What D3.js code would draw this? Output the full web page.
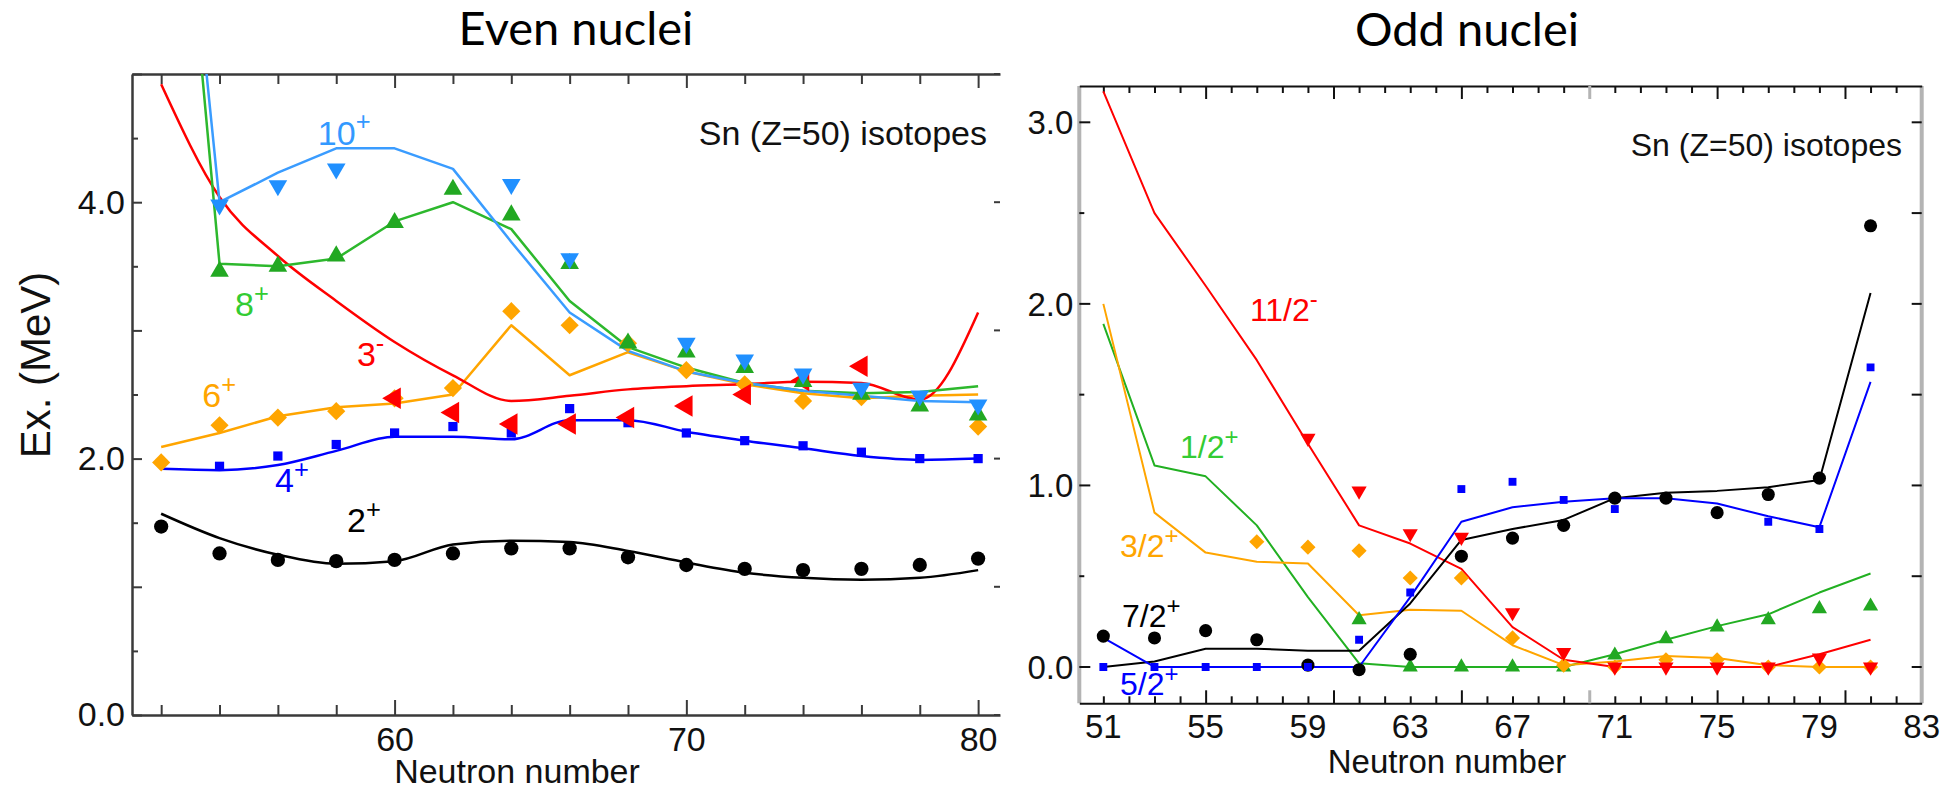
<!DOCTYPE html>
<html><head><meta charset="utf-8">
<script src="https://cdn.jsdelivr.net/npm/d3@7"></script>
<style>html,body{margin:0;padding:0;background:#fff;} svg{display:block;}</style>
</head><body>
<svg id="chart" width="1959" height="791"></svg>
<script>
// ---------- Even-N Sn isotopes: excitation energies (MeV) ----------
const evenN = d3.range(52, 81, 2);
const even2Exp  = [1.47, 1.26, 1.21, 1.20, 1.21, 1.26, 1.30, 1.30, 1.23, 1.17, 1.14, 1.13, 1.14, 1.17, 1.22];
const even2Th   = [1.57, 1.38, 1.25, 1.18, 1.20, 1.33, 1.36, 1.35, 1.28, 1.19, 1.11, 1.07, 1.055, 1.07, 1.13];
const even4Exp  = [null, 1.94, 2.02, 2.11, 2.20, 2.25, 2.20, 2.39, 2.28, 2.20, 2.14, 2.10, 2.05, 2.00, 2.00];
const even4Th   = [1.92, 1.91, 1.95, 2.06, 2.17, 2.17, 2.15, 2.30, 2.30, 2.21, 2.14, 2.08, 2.02, 1.99, 2.00];
const even6Exp  = [1.97, 2.26, 2.32, 2.37, 2.47, 2.55, 3.15, 3.04, 2.90, 2.69, 2.58, 2.45, 2.48, null, 2.25];
const even6Th   = [2.09, 2.20, 2.33, 2.40, 2.43, 2.50, 3.04, 2.65, 2.83, 2.68, 2.58, 2.51, 2.47, 2.49, 2.50];
const even3Exp  = [null, null, null, null, 2.47, 2.36, 2.27, 2.27, 2.32, 2.41, 2.50, 2.61, 2.72, null, null];
const even3Th   = [4.92, 4.04, 3.58, 3.23, 2.91, 2.65, 2.45, 2.49, 2.54, 2.565, 2.58, 2.60, 2.59, 2.46, 3.14];
const even8Exp  = [null, 3.46, 3.50, 3.58, 3.84, 4.10, 3.90, 3.52, 2.90, 2.83, 2.71, 2.60, 2.50, 2.41, 2.34];
const even8Th   = [8.5, 3.52, 3.50, 3.56, 3.85, 4.00, 3.79, 3.23, 2.87, 2.71, 2.59, 2.53, 2.51, 2.52, 2.565];
const even10Exp = [null, 3.98, 4.13, 4.26, null, null, 4.14, 3.56, null, 2.90, 2.77, 2.66, 2.55, 2.49, 2.42];
const even10Th  = [8.5, 4.00, 4.23, 4.42, 4.42, 4.26, 3.69, 3.14, 2.84, 2.68, 2.59, 2.53, 2.49, 2.45, 2.44];

// ---------- Odd-N Sn isotopes: excitation energies (MeV) ----------
const oddN = d3.range(51, 82, 2);
const odd72Exp  = [0.17, 0.16, 0.20, 0.15, 0.01, -0.015, 0.07, 0.61, 0.71, 0.78, 0.93, 0.93, 0.85, 0.95, 1.04, 2.43];
const odd72Th   = [0.00, 0.03, 0.10, 0.10, 0.09, 0.09, 0.35, 0.70, 0.76, 0.81, 0.93, 0.96, 0.97, 0.99, 1.03, 2.06];
const odd52Exp  = [0, 0, 0, 0, 0, 0.15, 0.41, 0.98, 1.02, 0.92, 0.87, null, null, 0.80, 0.76, 1.65];
const odd52Th   = [0.16, 0, 0, 0, 0, 0, 0.385, 0.80, 0.88, 0.91, 0.93, 0.93, 0.90, 0.83, 0.77, 1.57];
const odd32Exp  = [null, null, null, 0.69, 0.66, 0.64, 0.49, 0.49, 0.16, 0.01, 0, 0.04, 0.04, 0, 0, 0];
const odd32Th   = [2.00, 0.85, 0.63, 0.58, 0.57, 0.285, 0.315, 0.31, 0.12, 0.01, 0.03, 0.06, 0.05, 0.01, 0, 0];
const odd12Exp  = [null, null, null, null, null, 0.26, 0, 0, 0, 0, 0.065, 0.155, 0.22, 0.26, 0.32, 0.335];
const odd12Th   = [1.89, 1.11, 1.05, 0.78, 0.385, 0.02, 0, 0, 0, 0, 0.07, 0.15, 0.225, 0.29, 0.41, 0.515];
const odd112Exp = [null, null, null, null, 1.26, 0.97, 0.735, 0.715, 0.30, 0.08, 0, 0, 0, 0, 0.05, 0];
const odd112Th  = [3.17, 2.50, 2.10, 1.69, 1.23, 0.78, 0.68, 0.54, 0.22, 0.04, 0, 0, 0, 0, 0.07, 0.15];

// ---------- tick labels ----------
const evenXTickLabels = [60, 70, 80];
const evenYTickLabels = [0, 2, 4];
const oddXTickLabels  = [51, 55, 59, 63, 67, 71, 75, 79, 83];
const oddYTickLabels  = [0, 1, 2, 3];

const svg = d3.select("#chart");
const FONT = "'Liberation Sans', Arial, Helvetica, sans-serif";
const zip = (xs, ys) => xs.map((x, i) => ({x, v: ys[i]}));

function marker(g, pts, sx, sy, opt) {
  const path = d3.symbol().type(opt.type).size(opt.size)();
  g.selectAll(null).data(pts.filter(d => d.v != null)).join("path")
    .attr("d", path)
    .attr("fill", opt.color)
    .attr("transform", d => `translate(${sx(d.x)},${sy(d.v)}) rotate(${opt.rot || 0})`);
}
function curve(g, pts, sx, sy, color, width, smooth) {
  const line = d3.line().defined(d => d.v != null)
    .x(d => sx(d.x)).y(d => sy(d.v))
    .curve(smooth ? d3.curveMonotoneX : d3.curveLinear);
  g.append("path").attr("d", line(pts)).attr("fill", "none")
    .attr("stroke", color).attr("stroke-width", width).attr("stroke-linejoin", "round");
}
function label(g, x, y, main, sup, color, size) {
  const t = g.append("text").attr("x", x).attr("y", y)
    .attr("font-family", FONT).attr("font-size", size).attr("fill", color);
  t.append("tspan").text(main);
  t.append("tspan").attr("dy", "-0.55em").attr("font-size", "0.75em").text(sup);
}

// ================= Even nuclei panel =================
const xL = d3.scaleLinear().domain([51, 80.75]).range([132, 1000]);
const yL = d3.scaleLinear().domain([0, 5]).range([715, 74]);
const gL = svg.append("g");

svg.append("defs").append("clipPath").attr("id", "clipL")
  .append("rect").attr("x", xL(51)).attr("y", yL(5)).attr("width", xL(80.75) - xL(51)).attr("height", yL(0) - yL(5));
svg.select("defs").append("clipPath").attr("id", "clipR")
  .append("rect").attr("x", 1079.3).attr("y", 86).attr("width", 1921.7 - 1079.3).attr("height", 703.3 - 86);

const axisColor = "#3a3a3a";
// bottom
const axB = gL.append("g").attr("transform", `translate(0,${yL(0)})`)
  .call(d3.axisBottom(xL).tickValues(d3.range(52, 81, 2)).tickSize(-10).tickSizeOuter(0).tickPadding(12)
    .tickFormat(d => evenXTickLabels.includes(d) ? d : ""));
axB.selectAll(".tick line").filter(d => d % 10 === 0).attr("y2", -15);
// top
const axT = gL.append("g").attr("transform", `translate(0,${yL(5)})`)
  .call(d3.axisTop(xL).tickValues(d3.range(52, 81, 2)).tickSize(-10).tickSizeOuter(0).tickFormat(""));
axT.selectAll(".tick line").filter(d => d % 10 === 0).attr("y2", 14);
// left
const axLft = gL.append("g").attr("transform", `translate(${xL(51)},0)`)
  .call(d3.axisLeft(yL).tickValues(d3.range(0, 5.01, 0.5)).tickSize(-10).tickSizeOuter(0).tickPadding(7)
    .tickFormat(d => evenYTickLabels.includes(d) ? d3.format(".1f")(d) : ""));
axLft.selectAll(".tick line").filter(d => d % 1 !== 0).attr("x2", 6);
// right-hand inner ticks
gL.append("g").selectAll("line").data(d3.range(0, 5.01, 1)).join("line")
  .attr("x1", 994).attr("x2", 1000).attr("y1", d => yL(d)).attr("y2", d => yL(d))
  .attr("stroke", axisColor).attr("stroke-width", 2);
[axB, axT, axLft].forEach(a => {
  a.select(".domain").attr("stroke", axisColor).attr("stroke-width", 2.5);
  a.selectAll(".tick line").attr("stroke", axisColor).attr("stroke-width", 2);
  a.selectAll("text").attr("font-family", FONT).attr("font-size", 34).attr("fill", "#111");
});

gL.append("text").attr("x", 517).attr("y", 783).attr("text-anchor", "middle")
  .attr("font-family", FONT).attr("font-size", 34).attr("fill", "#111").text("Neutron number");
gL.append("text").attr("transform", "translate(50,365) rotate(-90)").attr("text-anchor", "middle")
  .attr("font-family", FONT).attr("font-size", 42).attr("fill", "#111").text("Ex. (MeV)");
gL.append("text").attr("x", 987).attr("y", 145).attr("text-anchor", "end")
  .attr("font-family", FONT).attr("font-size", 34).attr("fill", "#111").text("Sn (Z=50) isotopes");
svg.append("text").attr("x", 576).attr("y", 45).attr("text-anchor", "middle")
  .attr("font-family", "Lato, 'Open Sans', sans-serif").attr("font-size", 47).attr("fill", "#000").text("Even nuclei");

const plotL = gL.append("g").attr("clip-path", "url(#clipL)");
const C = {black: "#000", blue: "#0000ff", orange: "#ffa500", red: "#ff0000", green: "#22a822", sky: "#2090ff"};
curve(plotL, zip(evenN, even2Th), xL, yL, C.black, 2.5, true);
curve(plotL, zip(evenN, even4Th), xL, yL, C.blue, 2.5, true);
curve(plotL, zip(evenN, even6Th), xL, yL, C.orange, 2.5, false);
curve(plotL, zip(evenN, even3Th), xL, yL, C.red, 2.5, true);
curve(plotL, zip(evenN, even8Th), xL, yL, "#2db82d", 2.5, false);
curve(plotL, zip(evenN, even10Th), xL, yL, "#3a9cff", 2.5, false);

marker(plotL, zip(evenN, even2Exp), xL, yL, {type: d3.symbolCircle, size: 160, color: C.black});
marker(plotL, zip(evenN, even4Exp), xL, yL, {type: d3.symbolSquare, size: 85, color: C.blue});
marker(plotL, zip(evenN, even6Exp), xL, yL, {type: d3.symbolSquare, size: 165, color: C.orange, rot: 45});
marker(plotL, zip(evenN, even3Exp), xL, yL, {type: d3.symbolTriangle, size: 200, color: C.red, rot: -90});
marker(plotL, zip(evenN, even8Exp), xL, yL, {type: d3.symbolTriangle, size: 150, color: C.green});
marker(plotL, zip(evenN, even10Exp), xL, yL, {type: d3.symbolTriangle, size: 150, color: C.sky, rot: 180});

label(gL, xL(57.37), yL(4.45), "10", "+", "#3399ff", 34);
label(gL, xL(54.53), yL(3.11), "8", "+", "#33cc33", 34);
label(gL, xL(58.71), yL(2.72), "3", "-", "#ff0000", 34);
label(gL, xL(53.41), yL(2.40), "6", "+", "#ffa500", 34);
label(gL, xL(55.9), yL(1.74), "4", "+", "#0000ff", 34);
label(gL, xL(58.37), yL(1.43), "2", "+", "#000", 34);

// ================= Odd nuclei panel =================
const xR = d3.scaleLinear().domain([50.06, 83]).range([1079.3, 1921.7]);
const yR = d3.scaleLinear().domain([-0.2, 3.2]).range([703.3, 86]);
const gR = svg.append("g");

// frame: grey side rails, black top and bottom
gR.append("line").attr("x1", xR.range()[0]).attr("x2", xR.range()[0]).attr("y1", 86).attr("y2", 703.3)
  .attr("stroke", "#b4b4b4").attr("stroke-width", 4);
gR.append("line").attr("x1", xR.range()[1]).attr("x2", xR.range()[1]).attr("y1", 86).attr("y2", 703.3)
  .attr("stroke", "#b4b4b4").attr("stroke-width", 4);

const rB = gR.append("g").attr("transform", `translate(0,703.3)`)
  .call(d3.axisBottom(xR).tickValues(d3.range(51, 83, 1)).tickSize(-7).tickSizeOuter(0).tickPadding(10)
    .tickFormat(d => ""));
rB.selectAll(".tick line").filter(d => d % 5 === 0).attr("y2", -13);
const rT = gR.append("g").attr("transform", `translate(0,86)`)
  .call(d3.axisTop(xR).tickValues(d3.range(51, 83, 1)).tickSize(-7).tickSizeOuter(0).tickFormat(""));
rT.selectAll(".tick line").filter(d => d % 5 === 0).attr("y2", 13);
[rB, rT].forEach(a => {
  a.select(".domain").attr("stroke", "#111").attr("stroke-width", 2);
  a.selectAll(".tick line").attr("stroke", "#111").attr("stroke-width", 2)
    .filter(d => d === 70).attr("stroke", "#b4b4b4").attr("stroke-width", 3);
});
gR.append("g").selectAll("text").data(oddXTickLabels).join("text")
  .attr("x", d => xR(d)).attr("y", 738).attr("text-anchor", "middle")
  .attr("font-family", FONT).attr("font-size", 33).attr("fill", "#111").text(d => d);

// y ticks (inside, both sides)
const rTicks = d3.range(0, 3.01, 0.5);
gR.append("g").selectAll("line").data(rTicks).join("line")
  .attr("x1", xR.range()[0]).attr("x2", d => xR.range()[0] + (d % 1 === 0 ? 11 : 5))
  .attr("y1", d => yR(d)).attr("y2", d => yR(d)).attr("stroke", "#111").attr("stroke-width", 2);
gR.append("g").selectAll("line").data(rTicks).join("line")
  .attr("x1", xR.range()[1] - 10).attr("x2", xR.range()[1])
  .attr("y1", d => yR(d)).attr("y2", d => yR(d)).attr("stroke", "#111").attr("stroke-width", 2);
gR.append("g").selectAll("text").data(oddYTickLabels).join("text")
  .attr("x", xR.range()[0] - 6).attr("y", d => yR(d)).attr("dy", "0.36em").attr("text-anchor", "end")
  .attr("font-family", FONT).attr("font-size", 33).attr("fill", "#111").text(d => d3.format(".1f")(d));

gR.append("text").attr("x", 1447).attr("y", 773).attr("text-anchor", "middle")
  .attr("font-family", FONT).attr("font-size", 33).attr("fill", "#111").text("Neutron number");
gR.append("text").attr("x", 1902).attr("y", 156).attr("text-anchor", "end")
  .attr("font-family", FONT).attr("font-size", 32).attr("fill", "#111").text("Sn (Z=50) isotopes");
svg.append("text").attr("x", 1467).attr("y", 46).attr("text-anchor", "middle")
  .attr("font-family", "Lato, 'Open Sans', sans-serif").attr("font-size", 47).attr("fill", "#000").text("Odd nuclei");

const plotR = gR.append("g").attr("clip-path", "url(#clipR)");
curve(plotR, zip(oddN, odd12Th), xR, yR, "#22b022", 2, false);
curve(plotR, zip(oddN, odd32Th), xR, yR, C.orange, 2, false);
curve(plotR, zip(oddN, odd112Th), xR, yR, C.red, 2, false);
curve(plotR, zip(oddN, odd72Th), xR, yR, C.black, 2, false);
curve(plotR, zip(oddN, odd52Th), xR, yR, C.blue, 2, false);

marker(plotR, zip(oddN, odd12Exp), xR, yR, {type: d3.symbolTriangle, size: 100, color: C.green});
marker(plotR, zip(oddN, odd32Exp), xR, yR, {type: d3.symbolSquare, size: 115, color: C.orange, rot: 45});
marker(plotR, zip(oddN, odd112Exp), xR, yR, {type: d3.symbolTriangle, size: 100, color: C.red, rot: 180});
marker(plotR, zip(oddN, odd72Exp), xR, yR, {type: d3.symbolCircle, size: 135, color: C.black});
marker(plotR, zip(oddN, odd52Exp), xR, yR, {type: d3.symbolSquare, size: 62, color: C.blue});

label(gR, xR(56.73), yR(1.908), "11/2", "-", "#ff0000", 32);
label(gR, xR(54.0), yR(1.149), "1/2", "+", "#33cc33", 32);
label(gR, xR(51.65), yR(0.604), "3/2", "+", "#ffa500", 32);
label(gR, xR(51.73), yR(0.218), "7/2", "+", "#000", 32);
label(gR, xR(51.65), yR(-0.156), "5/2", "+", "#0000ff", 32);
</script>
</body></html>
